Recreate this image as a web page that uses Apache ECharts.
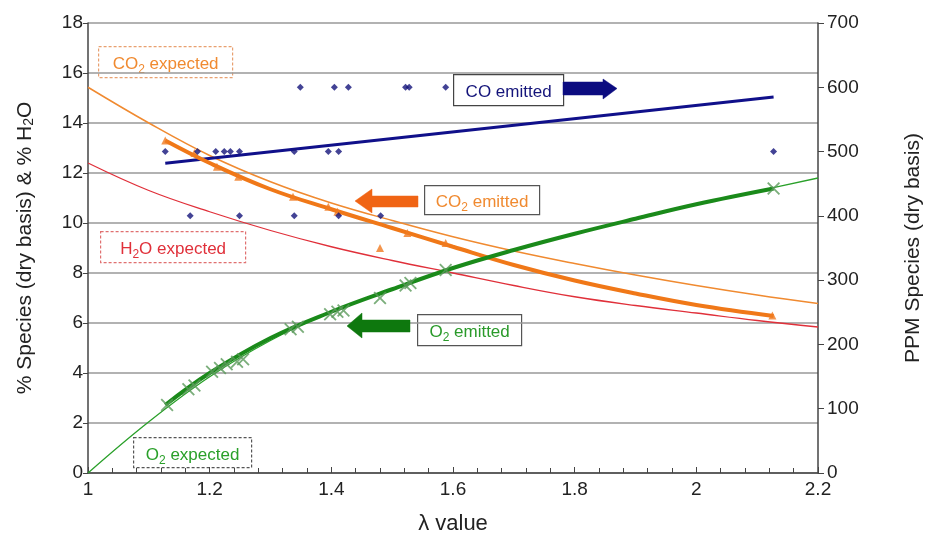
<!DOCTYPE html>
<html>
<head>
<meta charset="utf-8">
<script src="https://cdn.jsdelivr.net/npm/echarts@6/dist/echarts.min.js"></script>
<style>html,body{margin:0;padding:0;background:#fff;}#c{width:934px;height:545px;}</style>
</head>
<body>
<div id="c"></div>
<script>
// ---- data ----
const xTicks = [1, 1.2, 1.4, 1.6, 1.8, 2, 2.2];
const yLeftTicks = [0, 2, 4, 6, 8, 10, 12, 14, 16, 18];
const yRightTicks = [0, 100, 200, 300, 400, 500, 600, 700];

// expected curves (% dry)
const expLambda   = [1.0, 1.1, 1.2, 1.3, 1.4, 1.5, 1.6, 1.7, 1.8, 1.9, 2.0, 2.1, 2.2];
const co2Expected = [15.43, 14.0, 12.7, 11.65, 10.8, 10.1, 9.45, 8.88, 8.38, 7.92, 7.5, 7.12, 6.78];
const h2oExpected = [12.4, 11.3, 10.45, 9.7, 9.05, 8.5, 8.0, 7.5, 7.05, 6.7, 6.4, 6.1, 5.84];
const o2Expected  = [0, 2.05, 3.85, 5.3, 6.45, 7.35, 8.2, 8.92, 9.57, 10.17, 10.75, 11.27, 11.8];

// emitted fit curves (% dry)
const fitLambda     = [1.127, 1.2, 1.3, 1.4, 1.5, 1.6, 1.7, 1.8, 1.9, 2.0, 2.127];
const co2EmittedFit = [13.3, 12.4, 11.35, 10.55, 9.8, 9.05, 8.32, 7.7, 7.18, 6.72, 6.28];
const o2EmittedFit  = [2.72, 4.0, 5.4, 6.45, 7.35, 8.2, 8.92, 9.57, 10.17, 10.75, 11.38];

// CO2 emitted measurements (%)
const co2PtLambda = [1.127, 1.175, 1.212, 1.247, 1.337, 1.395, 1.41, 1.48, 1.525, 1.588, 2.125];
const co2PtValue  = [13.3, 12.8, 12.25, 11.85, 11.05, 10.65, 10.45, 9.0, 9.6, 9.2, 6.3];

// O2 emitted measurements (%)
const o2PtLambda = [1.13, 1.165, 1.175, 1.204, 1.217, 1.228, 1.245, 1.255, 1.333, 1.345, 1.398, 1.41, 1.42, 1.48, 1.522, 1.53, 1.588, 2.127];
const o2PtValue  = [2.72, 3.35, 3.5, 4.05, 4.2, 4.35, 4.45, 4.55, 5.75, 5.85, 6.35, 6.45, 6.5, 7.0, 7.5, 7.6, 8.12, 11.38];

// CO emitted measurements (ppm)
const coPtLambda = [1.127, 1.180, 1.210, 1.224, 1.234, 1.249, 1.339, 1.395, 1.412, 2.127,
                    1.349, 1.405, 1.428, 1.522, 1.528, 1.588,
                    1.168, 1.249, 1.339, 1.412, 1.481];
const coPtValue  = [500, 500, 500, 500, 500, 500, 500, 500, 500, 500,
                    600, 600, 600, 600, 600, 600,
                    400, 400, 400, 400, 400];
// CO emitted fit line (ppm)
const coFitLambda = [1.127, 2.127];
const coFitValue  = [481.8, 585];

const zip = (a, b) => a.map((v, i) => [v, b[i]]);

const XMARK = 'path://M0,1L1,0L5,4L9,0L10,1L6,5L10,9L9,10L5,6L1,10L0,9L4,5Z';
const FONT = '"Liberation Sans", Arial, sans-serif';

const chart = echarts.init(document.getElementById('c'), null, {renderer: 'canvas'});

function boxLabel(left, top, w, h, textRich, dashed, borderColor) {
  return {
    type: 'group', left: left, top: top, children: [
      {type: 'rect', shape: {x: 0, y: 0, width: w, height: h},
       style: {fill: '#fff', stroke: borderColor, lineWidth: 1.2, lineDash: dashed ? [3, 2] : null}},
      {type: 'text', x: w / 2, y: h / 2,
       style: Object.assign({align: 'center', verticalAlign: 'middle'}, textRich)}
    ]
  };
}
function richText(parts, color) {
  return {
    rich: {
      a: {fontSize: 17, fontFamily: FONT, fill: color, lineHeight: 22, verticalAlign: 'bottom'},
      s: {fontSize: 12, fontFamily: FONT, fill: color, lineHeight: 14, verticalAlign: 'bottom', padding: [0, 0, -3, 0]}
    },
    text: parts
  };
}
function arrow(points, color) {
  return {type: 'polygon', shape: {points: points}, style: {fill: color, stroke: color, lineWidth: 0.5}, z: 100};
}
const tickFmt = list => v => { const t = list.find(x => Math.abs(x - v) < 1e-6); return t === undefined ? '' : String(t); };

const option = {
  backgroundColor: '#fff',
  animation: false,
  grid: {left: 88, right: 116, top: 23, bottom: 72, containLabel: false},
  xAxis: {
    type: 'value', min: 1, max: 2.2, interval: 0.2,
    name: 'λ value', nameLocation: 'middle', nameGap: 40,
    nameTextStyle: {fontSize: 22, fontFamily: FONT, color: '#222'},
    axisLine: {show: true, onZero: false, lineStyle: {color: '#444', width: 1.5}},
    axisTick: {show: true, inside: true, length: 6, lineStyle: {color: '#444'}},
    minorTick: {show: true, splitNumber: 5, length: 5, lineStyle: {color: '#444'}},
    axisLabel: {fontSize: 19, fontFamily: FONT, color: '#222', margin: 7, formatter: tickFmt(xTicks)},
    splitLine: {show: false}
  },
  yAxis: [
    {
      type: 'value', min: 0, max: 18, interval: 2, position: 'left',
      name: '% Species (dry basis) & % H{s|2}O', nameLocation: 'middle', nameGap: 52, nameRotate: 90,
      nameTextStyle: {fontSize: 21, fontFamily: FONT, color: '#222',
        rich: {s: {fontSize: 14, fontFamily: FONT, color: '#222', padding: [0, 0, -8, 0]}}},
      axisLine: {show: true, lineStyle: {color: '#444', width: 1.5}},
      axisTick: {show: true, length: 5, lineStyle: {color: '#444'}},
      axisLabel: {fontSize: 19, fontFamily: FONT, color: '#222', margin: 5, formatter: tickFmt(yLeftTicks)},
      splitLine: {show: true, lineStyle: {color: '#999', width: 1.5}}
    },
    {
      type: 'value', min: 0, max: 700, interval: 100, position: 'right',
      name: 'PPM Species (dry basis)', nameLocation: 'middle', nameGap: 85, nameRotate: 90,
      nameTextStyle: {fontSize: 21, fontFamily: FONT, color: '#222'},
      axisLine: {show: true, lineStyle: {color: '#444', width: 1.5}},
      axisTick: {show: true, length: 6, lineStyle: {color: '#444'}},
      axisLabel: {fontSize: 19, fontFamily: FONT, color: '#222', margin: 9, formatter: tickFmt(yRightTicks)},
      splitLine: {show: false}
    }
  ],
  series: [
    {name: 'H2O expected', type: 'line', smooth: 0.4, showSymbol: false, yAxisIndex: 0,
     data: zip(expLambda, h2oExpected), lineStyle: {color: '#e0303a', width: 1.3}, z: 2},
    {name: 'CO2 expected', type: 'line', smooth: 0.4, showSymbol: false, yAxisIndex: 0,
     data: zip(expLambda, co2Expected), lineStyle: {color: '#f08a30', width: 1.5}, z: 2},
    {name: 'O2 expected', type: 'line', smooth: 0.4, showSymbol: false, yAxisIndex: 0,
     data: zip(expLambda, o2Expected), lineStyle: {color: '#2aa02a', width: 1.3}, z: 2},
    {name: 'CO emitted fit', type: 'line', showSymbol: false, yAxisIndex: 1,
     data: zip(coFitLambda, coFitValue), lineStyle: {color: '#10108a', width: 3}, z: 3},
    {name: 'CO2 emitted fit', type: 'line', smooth: 0.4, showSymbol: false, yAxisIndex: 0,
     data: zip(fitLambda, co2EmittedFit), lineStyle: {color: '#f07818', width: 4}, z: 3},
    {name: 'O2 emitted fit', type: 'line', smooth: 0.4, showSymbol: false, yAxisIndex: 0,
     data: zip(fitLambda, o2EmittedFit), lineStyle: {color: '#1a8a1a', width: 4}, z: 3},
    {name: 'CO2 pts', type: 'scatter', yAxisIndex: 0, symbol: 'triangle', symbolSize: 8,
     data: zip(co2PtLambda, co2PtValue), itemStyle: {color: '#f07a20'}, z: 4},
    {name: 'O2 pts', type: 'scatter', yAxisIndex: 0, symbol: XMARK, symbolSize: 13,
     data: zip(o2PtLambda, o2PtValue), itemStyle: {color: '#5a9a5a'}, z: 4},
    {name: 'CO pts', type: 'scatter', yAxisIndex: 1, symbol: 'diamond', symbolSize: 7,
     data: zip(coPtLambda, coPtValue), itemStyle: {color: '#14147a'}, z: 5}
  ],
  graphic: [
    boxLabel(98, 46, 134, 31, richText('{a|CO}{s|2}{a| expected}', '#f08a30'), true, '#e8a070'),
    boxLabel(100, 231, 145, 31, richText('{a|H}{s|2}{a|O expected}', '#e0303a'), true, '#e07070'),
    boxLabel(133, 437, 118, 30, richText('{a|O}{s|2}{a| expected}', '#2aa02a'), true, '#555'),
    boxLabel(453, 74, 110, 31, richText('{a|CO emitted}', '#14147a'), false, '#444'),
    boxLabel(424, 185, 115, 29, richText('{a|CO}{s|2}{a| emitted}', '#f08a30'), false, '#555'),
    boxLabel(417, 314, 104, 31, richText('{a|O}{s|2}{a| emitted}', '#2a9a2a'), false, '#555'),
    arrow([[563, 82], [603, 82], [603, 79], [617, 88.5], [603, 99], [603, 95], [563, 95]], '#0c0c80'),
    arrow([[418, 196], [372, 196], [372, 189], [355, 201], [372, 213], [372, 207], [418, 207]], '#f06414'),
    arrow([[410, 320], [362, 320], [362, 313], [347, 326], [362, 338], [362, 332], [410, 332]], '#0e780e')
  ]
};
chart.setOption(option);
</script>
</body>
</html>
